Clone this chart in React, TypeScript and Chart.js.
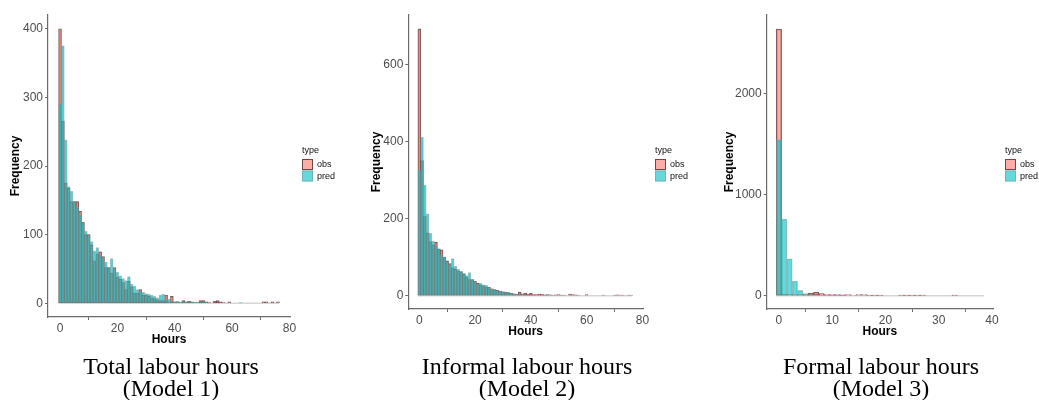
import React, { useEffect, useRef } from "react";
import { Chart, registerables } from "chart.js";

Chart.register(...registerables);

// ---- data (bin centres start at 0, width 1 hour) ----
const binStart = 0;
const binWidth = 1;
const seriesNames = ["obs", "pred"];
const legendTitle = "type";
const xTitle = "Hours";
const yTitle = "Frequency";

// Model 1: Total labour hours
const totalObs = [
  400, 265, 175, 168, 148, 148, 148, 134, 118, 100,
  100, 85, 62, 72, 75, 68, 52, 52, 44, 52,
  38, 35, 30, 20, 32, 24, 15, 15, 20, 12,
  12, 10, 8, 7, 5, 4, 4, 12, 2, 10,
  2, 2, 1, 4, 2, 3, 2, 1, 1, 4,
  4, 2, 1, 0, 3, 4, 2, 1, 0, 2,
  0, 0, 0, 0, 0, 0, 0, 0, 0, 0,
  0, 2, 2, 0, 2, 0, 2,
];
const totalPred = [
  290, 375, 238, 170, 163, 148, 140, 128, 118, 105,
  98, 90, 76, 81, 70, 66, 60, 52, 65, 50,
  45, 40, 36, 33, 39, 28, 25, 20, 17, 16,
  14, 13, 12, 10, 8, 12, 13, 5, 6, 3,
  2, 3, 2, 2, 1, 1, 1, 1, 1, 1,
  2, 1, 0, 0, 0, 0, 0, 0, 0, 0,
  0, 0, 0, 1,
];
const totalXTicks = [0, 20, 40, 60, 80];
const totalYTicks = [0, 100, 200, 300, 400];

// Model 2: Informal labour hours
const informalObs = [
  692, 350, 205, 163, 140, 132, 138, 120, 119, 100,
  90, 83, 72, 68, 64, 62, 55, 48, 42, 42,
  38, 32, 28, 26, 22, 22, 18, 16, 14, 12,
  10, 9, 8, 6, 5, 4, 9, 5, 7, 4,
  7, 3, 3, 4, 4, 2, 3, 2, 1, 2,
  3, 1, 1, 0, 4, 3, 2, 1, 0, 0,
  3, 0, 0, 0, 0, 0, 1, 0, 0, 0,
  1, 2, 1, 1, 0, 1, 1,
];
const informalPred = [
  326, 411, 286, 212, 162, 141, 128, 122, 106, 100,
  88, 80, 96, 76, 68, 64, 58, 52, 60, 42,
  35, 30, 32, 28, 27, 22, 18, 16, 13, 11,
  10, 9, 8, 7, 4, 3, 3, 2, 2, 1,
  2, 1, 1, 1, 1, 1, 1,
];
const informalXTicks = [0, 20, 40, 60, 80];
const informalYTicks = [0, 200, 400, 600];

// Model 3: Formal labour hours
const formalObs = [
  2643, 15, 12, 12, 12, 15, 25, 33, 20, 12,
  12, 12, 8, 10, 6, 10, 10, 3, 3, 3,
  0, 0, 0, 3, 3, 3, 3, 3, 0, 0,
  0, 0, 0, 3, 0, 0, 0, 0, 0,
];
const formalPred = [1545, 759, 366, 145, 52, 20, 10, 6, 4, 3, 2, 2, 1];
const formalXTicks = [0, 10, 20, 30, 40];
const formalYTicks = [0, 1000, 2000];

const captions = [
  ["Total labour hours", "(Model 1)"],
  ["Informal labour hours", "(Model 2)"],
  ["Formal labour hours", "(Model 3)"],
];

// ---- styles ----
const OBS_FILL = "rgba(248,118,109,0.6)";
const OBS_LINE = "rgba(80,45,45,0.8)";
const PRED_FILL = "rgba(0,191,196,0.6)";
const PRED_LINE = "rgba(120,150,150,0.55)";
const AXIS = "#6a6a6a";
const TICK_TEXT = "#4d4d4d";
const SANS = "'Liberation Sans', Arial, sans-serif";

const legendPlugin = {
  id: "typeLegend",
  afterDraw(chart: any) {
    const { ctx, chartArea } = chart;
    const x = chartArea.right + 12;
    const y0 = chartArea.top;
    ctx.save();
    ctx.font = `9px ${SANS}`;
    ctx.fillStyle = "#111";
    ctx.textBaseline = "middle";
    ctx.textAlign = "left";
    ctx.fillText(legendTitle, x, y0 + 135.5);
    const fills = [OBS_FILL, PRED_FILL];
    const lines = [OBS_LINE, PRED_LINE];
    seriesNames.forEach((name, i) => {
      const by = y0 + 144 + i * 11.5;
      ctx.fillStyle = fills[i];
      ctx.fillRect(x, by, 11, 11);
      ctx.strokeStyle = lines[i];
      ctx.lineWidth = 1;
      ctx.strokeRect(x + 0.5, by + 0.5, 10, 10);
      ctx.fillStyle = "#111";
      ctx.fillText(name, x + 15, by + 6);
    });
    ctx.restore();
  },
};

type PanelProps = {
  left: number;
  width: number;
  height: number;
  obs: number[];
  pred: number[];
  xTicks: number[];
  yTicks: number[];
  xMin: number;
  xMax: number;
  yMin: number;
  yMax: number;
  yAxisWidth: number;
  yTitlePad: number;
  padRight: number;
};

function Histogram(p: PanelProps) {
  const ref = useRef<HTMLCanvasElement>(null);
  useEffect(() => {
    const toPts = (arr: number[]) =>
      arr.map((v, i) => ({ x: binStart + i * binWidth, y: v }));
    const nBins = Math.max(p.obs.length, p.pred.length);
    const barCommon = {
      grouped: false,
      barPercentage: 1,
      categoryPercentage: 1,
      borderWidth: 0.8,
      borderSkipped: false,
    };
    const chart = new Chart(ref.current as HTMLCanvasElement, {
      type: "bar",
      data: {
        datasets: [
          {
            type: "line",
            label: "zero",
            data: [
              { x: binStart - binWidth / 2, y: 0 },
              { x: binStart + (nBins - 0.5) * binWidth, y: 0 },
            ],
            borderColor: "#d6d6d6",
            borderWidth: 1.5,
            pointRadius: 0,
            order: 3,
          } as any,
          {
            label: seriesNames[0],
            data: toPts(p.obs),
            backgroundColor: OBS_FILL,
            borderColor: OBS_LINE,
            order: 2,
            ...barCommon,
          } as any,
          {
            label: seriesNames[1],
            data: toPts(p.pred),
            backgroundColor: PRED_FILL,
            borderColor: PRED_LINE,
            order: 1,
            ...barCommon,
          } as any,
        ],
      },
      options: {
        animation: false,
        responsive: false,
        devicePixelRatio: 1,
        layout: { padding: { top: 15, right: p.padRight, bottom: 0, left: 0 } },
        plugins: {
          legend: { display: false },
          tooltip: { enabled: false },
        },
        scales: {
          x: {
            type: "linear",
            min: p.xMin,
            max: p.xMax,
            offset: false,
            afterBuildTicks: (s: any) => {
              s.ticks = p.xTicks.map((v) => ({ value: v }));
            },
            afterFit: (s: any) => {
              s.height = 33;
            },
            ticks: {
              callback: (v: any) => String(v),
              color: TICK_TEXT,
              font: { family: SANS, size: 12 },
              padding: 1,
              maxRotation: 0,
            },
            grid: {
              display: true,
              drawOnChartArea: false,
              drawTicks: true,
              tickLength: 3,
              color: AXIS,
            },
            border: { display: true, color: AXIS, width: 1.2 },
            title: {
              display: true,
              text: xTitle,
              color: "#000",
              font: { family: SANS, size: 12, weight: "bold" },
              padding: { top: 0, bottom: 2.8 },
            },
          },
          y: {
            type: "linear",
            min: p.yMin,
            max: p.yMax,
            afterBuildTicks: (s: any) => {
              s.ticks = p.yTicks.map((v) => ({ value: v }));
            },
            afterFit: (s: any) => {
              s.width = p.yAxisWidth;
            },
            ticks: {
              callback: (v: any) => String(v),
              color: TICK_TEXT,
              font: { family: SANS, size: 12 },
              padding: 2,
            },
            grid: {
              display: true,
              drawOnChartArea: false,
              drawTicks: true,
              tickLength: 3,
              color: AXIS,
            },
            border: { display: true, color: AXIS, width: 1.2 },
            title: {
              display: true,
              text: yTitle,
              color: "#000",
              font: { family: SANS, size: 12, weight: "bold" },
              padding: { top: p.yTitlePad, bottom: 0 },
            },
          },
        },
      },
      plugins: [legendPlugin],
    } as any);
    return () => chart.destroy();
  }, []);
  return (
    <div
      style={{
        position: "fixed",
        left: p.left,
        top: 0,
        width: p.width,
        height: p.height,
      }}
    >
      <canvas ref={ref} width={p.width} height={p.height} />
    </div>
  );
}

function Caption({ center, lines }: { center: number; lines: string[] }) {
  return (
    <div
      style={{
        position: "fixed",
        left: center - 150,
        top: 355,
        width: 300,
        textAlign: "center",
        fontFamily: "'Liberation Serif', 'Times New Roman', serif",
        fontSize: 24,
        lineHeight: "22px",
        color: "#000",
        whiteSpace: "nowrap",
      }}
    >
      {lines.map((l, i) => (
        <div key={i}>{l}</div>
      ))}
    </div>
  );
}

export default function App() {
  return (
    <div style={{ width: 1039, height: 400, background: "#fff" }}>
      <Histogram
        left={0}
        width={345}
        height={350}
        obs={totalObs}
        pred={totalPred}
        xTicks={totalXTicks}
        yTicks={totalYTicks}
        xMin={-4.2}
        xMax={80.2}
        yMin={-20}
        yMax={420}
        yAxisWidth={48}
        yTitlePad={8.8}
        padRight={55}
      />
      <Histogram
        left={350}
        width={345}
        height={342}
        obs={informalObs}
        pred={informalPred}
        xTicks={informalXTicks}
        yTicks={informalYTicks}
        xMin={-3.94}
        xMax={80.2}
        yMin={-34.6}
        yMax={727.7}
        yAxisWidth={58.3}
        yTitlePad={19.5}
        padRight={52}
      />
      <Histogram
        left={700}
        width={339}
        height={342}
        obs={formalObs}
        pred={formalPred}
        xTicks={formalXTicks}
        yTicks={formalYTicks}
        xMin={-2.3}
        xMax={40.2}
        yMin={-132}
        yMax={2782}
        yAxisWidth={66.7}
        yTitlePad={22.8}
        padRight={46}
      />
      <Caption center={171} lines={captions[0]} />
      <Caption center={527} lines={captions[1]} />
      <Caption center={881} lines={captions[2]} />
    </div>
  );
}
